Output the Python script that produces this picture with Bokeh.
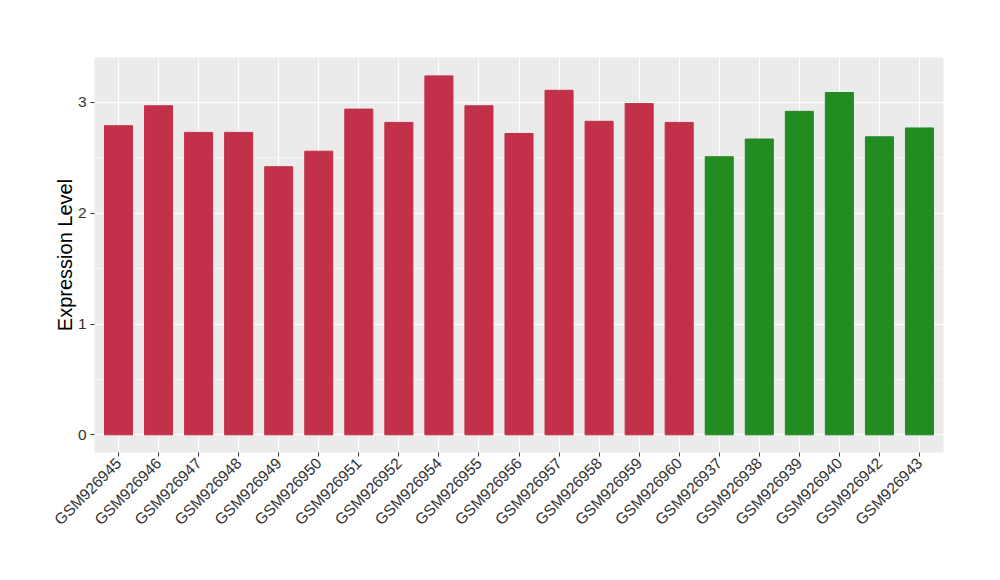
import math
from bokeh.plotting import figure
from bokeh.models import ColumnDataSource, FactorRange, Range1d, FixedTicker
from bokeh.embed import file_html
from bokeh.resources import INLINE

samples = ["GSM926945", "GSM926946", "GSM926947", "GSM926948", "GSM926949",
           "GSM926950", "GSM926951", "GSM926952", "GSM926954", "GSM926955",
           "GSM926956", "GSM926957", "GSM926958", "GSM926959", "GSM926960",
           "GSM926937", "GSM926938", "GSM926939", "GSM926940", "GSM926942",
           "GSM926943"]
values = [2.79, 2.97, 2.73, 2.73, 2.42, 2.56, 2.94, 2.82, 3.24, 2.97,
          2.72, 3.11, 2.83, 2.99, 2.82, 2.51, 2.67, 2.92, 3.09, 2.69, 2.77]
groups = ["A"] * 15 + ["B"] * 6
group_colors = {"A": "#C2304A", "B": "#228B22"}
y_ticks = [0, 1, 2, 3]
y_minor = [0.5, 1.5, 2.5]

src = ColumnDataSource(dict(x=samples, top=values,
                            color=[group_colors[g] for g in groups]))

FONT = "Liberation Sans"

p = figure(width=984, height=564, output_backend="svg", toolbar_location=None,
           x_range=FactorRange(factors=samples, range_padding=0.1,
                               range_padding_units="absolute"),
           y_range=Range1d(-0.16, 3.406),
           min_border_left=94, min_border_right=41,
           min_border_top=57, min_border_bottom=112)

p.vbar(x="x", top="top", bottom=0, width=0.7, color="color", source=src)

p.background_fill_color = "#EBEBEB"
p.border_fill_color = "white"
p.outline_line_color = None

p.xgrid.grid_line_color = "white"
p.xgrid.grid_line_width = 1.1
p.ygrid.grid_line_color = "white"
p.ygrid.grid_line_width = 1.1
p.ygrid.minor_grid_line_color = "white"
p.ygrid.minor_grid_line_width = 0.5

p.yaxis.ticker = FixedTicker(ticks=y_ticks, minor_ticks=y_minor)

for ax in (p.xaxis[0], p.yaxis[0]):
    ax.axis_line_color = None
    ax.major_tick_line_color = "#333333"
    ax.major_tick_in = 0
    ax.major_tick_out = 4
    ax.minor_tick_line_color = None
    ax.major_label_text_font = FONT
    ax.major_label_text_font_size = "15.5px"
    ax.major_label_text_color = "#333333"

p.xaxis.major_label_orientation = math.pi / 4
p.xaxis.major_label_standoff = 4
p.yaxis.major_label_standoff = 4

p.yaxis.axis_label = "Expression Level"
p.yaxis.axis_label_text_font = FONT
p.yaxis.axis_label_text_font_size = "20px"
p.yaxis.axis_label_text_font_style = "normal"
p.yaxis.axis_label_text_color = "black"
p.yaxis.axis_label_standoff = -1

open("out.html", "w").write(file_html(p, INLINE))
